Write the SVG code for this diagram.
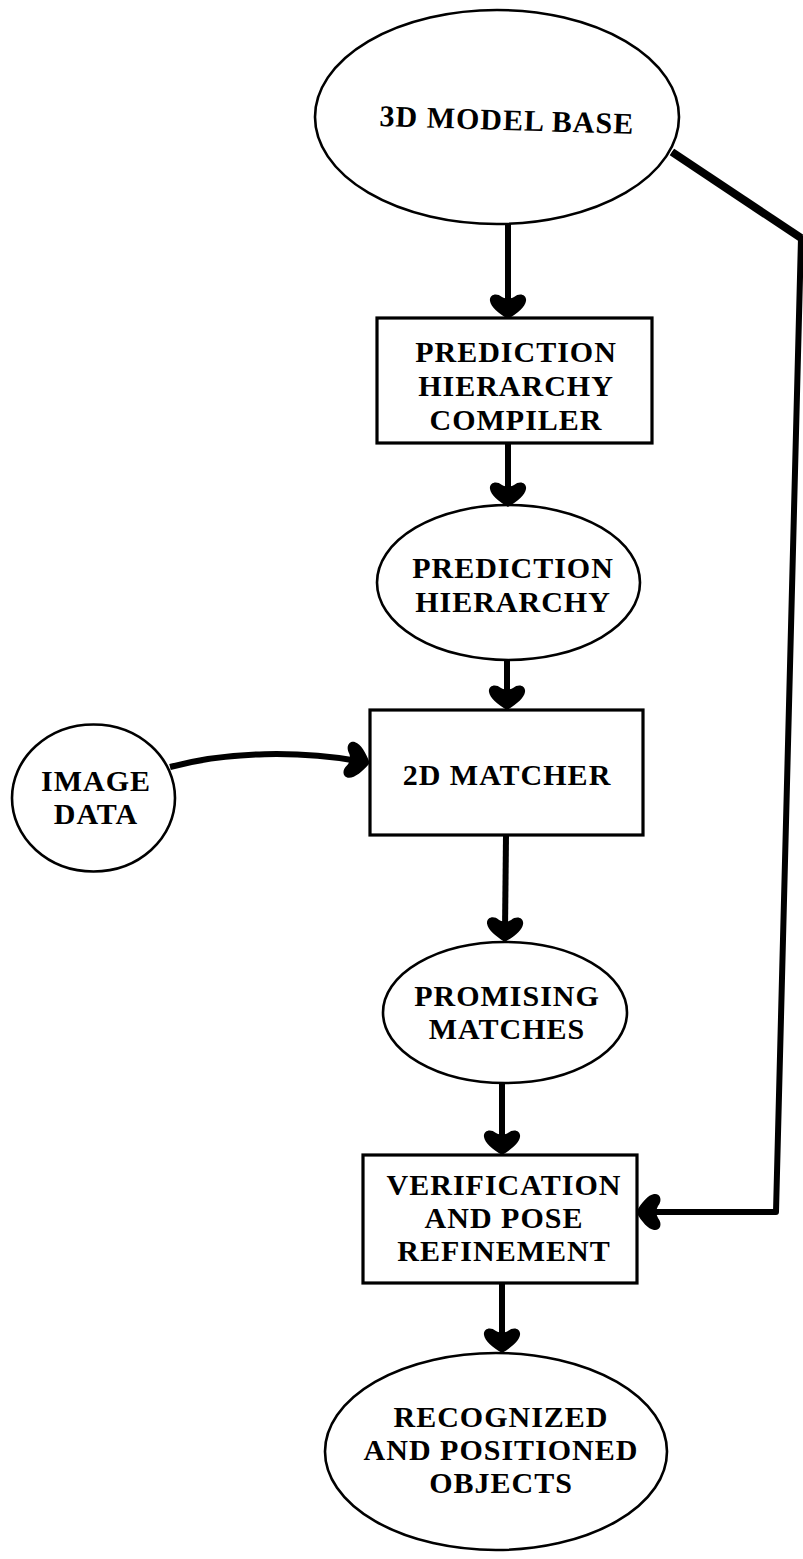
<svg xmlns="http://www.w3.org/2000/svg" width="803" height="1559" viewBox="0 0 803 1559">
<style>
  .shape { fill: #fff; stroke: #000; }
  .ell { stroke-width: 2.6; }
  .box { stroke-width: 3.2; }
  .lbl { font-family: "Liberation Serif", "Times New Roman", serif; font-weight: bold; font-size: 30px; letter-spacing: 1px; fill: #000; text-anchor: middle; }
  .conn { fill: none; stroke: #000; stroke-width: 6; stroke-linejoin: round; stroke-linecap: butt; }
</style>
<defs>
  <marker id="head" markerUnits="userSpaceOnUse" markerWidth="44" markerHeight="44" viewBox="-32 -22 44 44" refX="-12" refY="0" orient="auto" overflow="visible">
    <path d="M0,0 C-6,-10 -12,-17 -18,-18 C-24,-19 -27,-12 -22,-6 Q-20,-3 -21,0 Q-20,3 -22,6 C-27,12 -24,19 -18,18 C-12,17 -6,10 0,0 Z" fill="#000"/>
  </marker>
</defs>
<rect x="0" y="0" width="803" height="1559" fill="#fff"/>

<g id="model-base">
  <ellipse class="shape ell" cx="497" cy="117" rx="182" ry="107"/>
  <text class="lbl" x="507" y="130" transform="rotate(1.8 506 119)">3D MODEL BASE</text>
</g>

<g id="compiler">
  <rect class="shape box" x="377" y="318" width="275" height="125"/>
  <text class="lbl" x="516" y="362">PREDICTION</text>
  <text class="lbl" x="516" y="396">HIERARCHY</text>
  <text class="lbl" x="516" y="430">COMPILER</text>
</g>

<g id="prediction-hierarchy">
  <ellipse class="shape ell" cx="508.5" cy="582.5" rx="131.5" ry="77.5"/>
  <text class="lbl" x="513" y="578">PREDICTION</text>
  <text class="lbl" x="513" y="612">HIERARCHY</text>
</g>

<g id="image-data">
  <ellipse class="shape ell" cx="93.5" cy="798" rx="81.5" ry="73.5"/>
  <text class="lbl" x="96" y="791">IMAGE</text>
  <text class="lbl" x="96" y="824">DATA</text>
</g>

<g id="matcher">
  <rect class="shape box" x="370" y="710" width="273" height="125"/>
  <text class="lbl" x="507" y="785">2D MATCHER</text>
</g>

<g id="promising-matches">
  <ellipse class="shape ell" cx="505" cy="1012.5" rx="122" ry="70.5"/>
  <text class="lbl" x="507" y="1006">PROMISING</text>
  <text class="lbl" x="507" y="1039">MATCHES</text>
</g>

<g id="verification">
  <rect class="shape box" x="363" y="1155" width="274" height="128"/>
  <text class="lbl" x="504" y="1195">VERIFICATION</text>
  <text class="lbl" x="504" y="1228">AND POSE</text>
  <text class="lbl" x="504" y="1261">REFINEMENT</text>
</g>

<g id="recognized">
  <ellipse class="shape ell" cx="496" cy="1451.5" rx="171" ry="98.5"/>
  <text class="lbl" x="501" y="1427">RECOGNIZED</text>
  <text class="lbl" x="501" y="1460">AND POSITIONED</text>
  <text class="lbl" x="501" y="1493">OBJECTS</text>
</g>

<g id="connectors">
  <path class="conn" d="M508,224 L508,307" marker-end="url(#head)"/>
  <path class="conn" d="M508,444 L508,495" marker-end="url(#head)"/>
  <path class="conn" d="M507,659 L507,698" marker-end="url(#head)"/>
  <path class="conn" d="M506,836 L505,930" marker-end="url(#head)"/>
  <path class="conn" d="M502,1082 L502,1143" marker-end="url(#head)"/>
  <path class="conn" d="M502,1284 L502,1341" marker-end="url(#head)"/>
  <path class="conn" d="M170,767 C 230,751 300,751 358,761" marker-end="url(#head)"/>
  <path class="conn" d="M672,152 L801,238 L776,1212 L648,1212" marker-end="url(#head)"/>
  <path class="conn" d="M672,152 L801,238" style="stroke-width:8"/>
</g>
</svg>
